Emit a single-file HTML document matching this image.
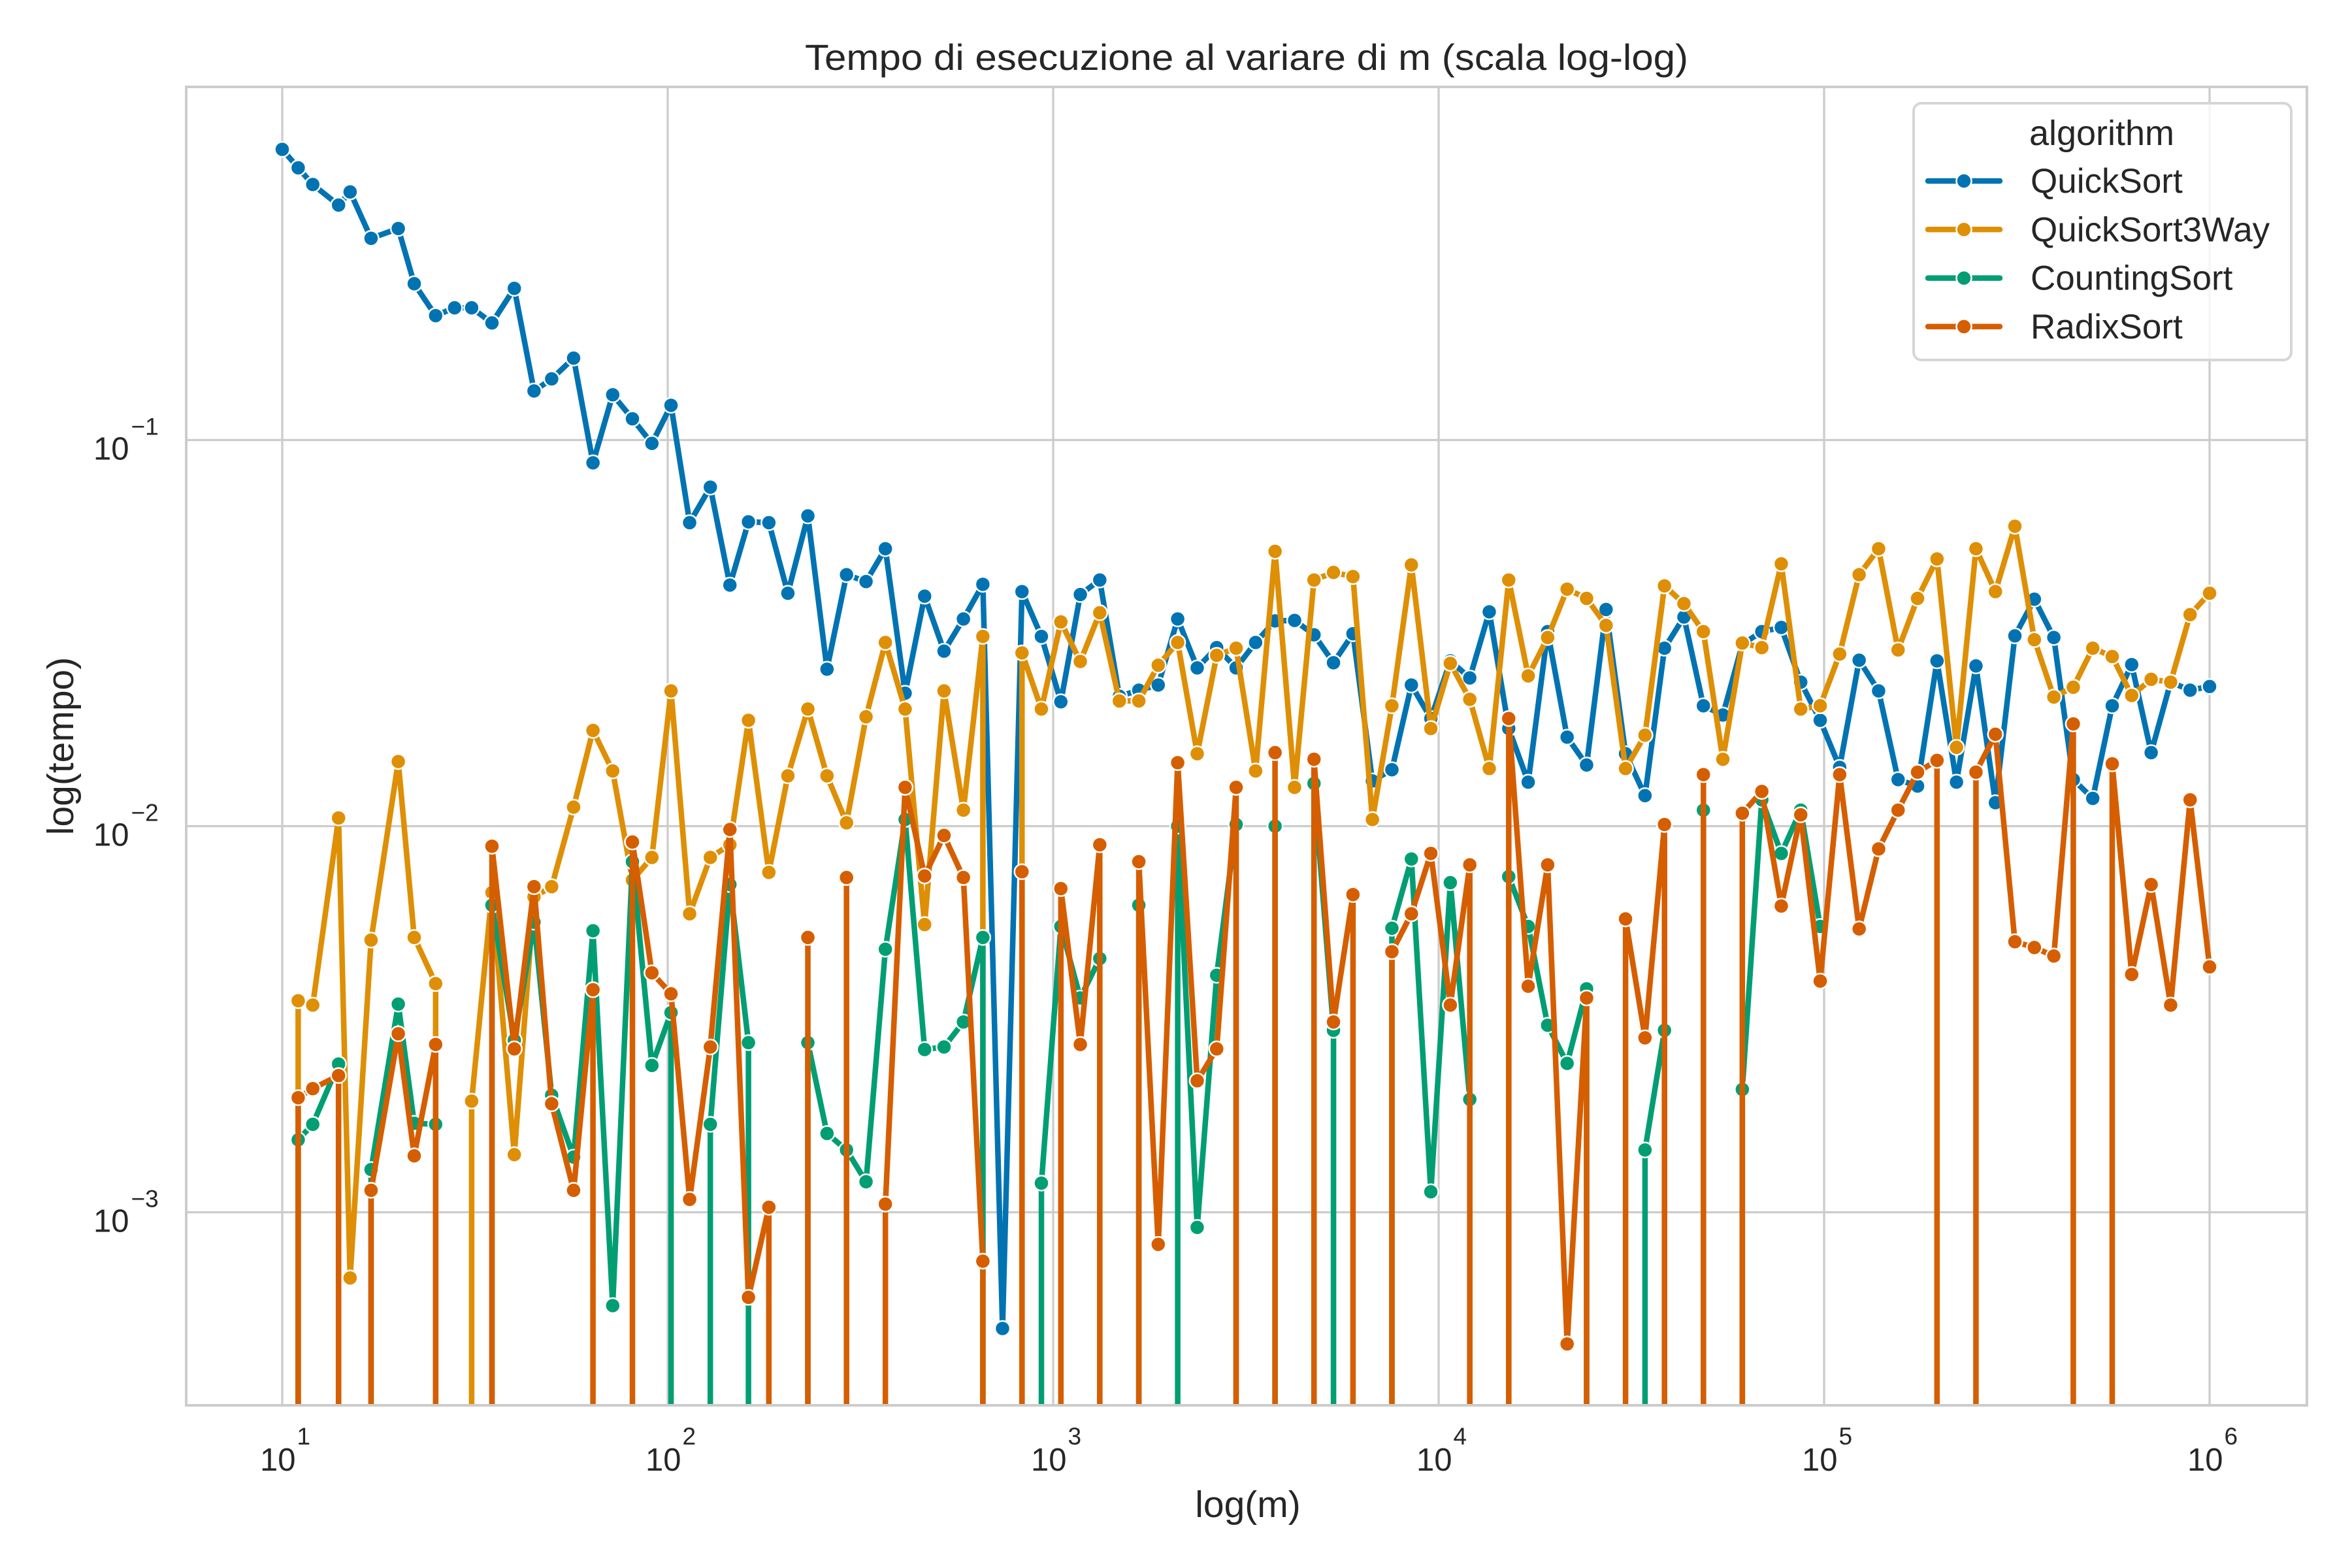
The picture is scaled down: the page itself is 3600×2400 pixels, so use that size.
<!DOCTYPE html>
<html><head><meta charset="utf-8"><style>
html,body{margin:0;padding:0;background:#fff;width:3600px;height:2400px;overflow:hidden;}
svg{display:block;font-family:"Liberation Sans",Arial,sans-serif;}
</style></head>
<body>
<svg id="chart" width="3600" height="2400" viewBox="0 0 3600 2400" xmlns="http://www.w3.org/2000/svg">
<defs><clipPath id="plotclip"><rect x="285" y="133" width="3246" height="2018"/></clipPath></defs>
<rect x="0" y="0" width="3600" height="2400" fill="#fff"/>
<g id="grid"></g>
<g id="series" clip-path="url(#plotclip)"></g>
<rect x="285" y="133" width="3246" height="2018" fill="none" stroke="#cccccc" stroke-width="4"/>
<g id="ticks"></g>
<text x="1908" y="107" text-anchor="middle" font-size="56" fill="#262626" textLength="1352" lengthAdjust="spacingAndGlyphs">Tempo di esecuzione al variare di m (scala log-log)</text>
<text x="1910" y="2322" text-anchor="middle" font-size="57" fill="#262626">log(m)</text>
<text x="0" y="0" transform="translate(112,1142) rotate(-90)" text-anchor="middle" font-size="57" fill="#262626">log(tempo)</text>
<g id="legend"></g>
</svg>
<script>
const mValues = [10,11,12,14,15,17,20,22,25,28,31,35,40,45,50,57,64,72,81,91,
102,114,129,145,162,183,205,231,259,291,327,367,413,464,521,585,657,739,830,932,
1047,1176,1321,1485,1668,1873,2104,2364,2656,2983,3351,3764,4229,4750,5336,5994,6733,7564,8497,9545,
10722,12045,13530,15199,17074,19179,21544,24201,27186,30539,34304,38535,43287,48626,54622,61359,68926,77426,86975,97701,
109749,123284,138488,155567,174752,196304,220513,247708,278256,312572,351119,394420,443062,497702,559081,628029,705480,792482,890215,1000000];

const quickSort = [0.566,0.507,0.459,0.406,0.439,0.333,0.353,0.254,0.210,0.220,0.220,0.201,0.247,0.134,0.144,0.163,0.0873,0.131,0.1135,0.098,
0.123,0.0611,0.0755,0.0421,0.0614,0.0611,0.0401,0.0636,0.0255,0.0448,0.0430,0.0523,0.0221,0.0394,0.0284,0.0344,0.0423,0.0005,0.0405,0.0310,
0.0210,0.0398,0.0434,0.0217,0.0225,0.0232,0.0344,0.0257,0.0290,0.0257,0.0299,0.0340,0.0341,0.0313,0.0265,0.0315,0.0131,0.0140,0.0232,0.0190,
0.0268,0.0242,0.0359,0.0179,0.0130,0.0319,0.0170,0.0144,0.0364,0.0154,0.0120,0.0289,0.0348,0.0205,0.0194,0.0296,0.0319,0.0327,0.0236,0.0188,
0.0142,0.0269,0.0224,0.0132,0.0127,0.0268,0.0130,0.0260,0.0115,0.0311,0.0387,0.0308,0.0132,0.0118,0.0205,0.0262,0.0155,0.0236,0.0225,0.0230];

const quickSort3Way = [0,0.00353,0.00344,0.0105,0.000676,0.00507,0.0147,0.00515,0.00391,0,0.00194,0.00673,0.00141,0.00656,0.00697,0.0112,0.0177,0.0139,0.00725,0.0083,
0.0224,0.00593,0.0083,0.00895,0.0188,0.00759,0.0135,0.0201,0.0135,0.0102,0.0192,0.0299,0.0201,0.00556,0.0224,0.0110,0.0310,0,0.0281,0.0201,
0.0338,0.0267,0.0357,0.0211,0.0211,0.0261,0.0299,0.0154,0.0277,0.0289,0.0139,0.0515,0.0126,0.0434,0.0454,0.0443,0.0104,0.0205,0.0475,0.0179,
0.0264,0.0213,0.0141,0.0434,0.0245,0.0308,0.0411,0.0389,0.0331,0.0141,0.0172,0.0419,0.0377,0.0319,0.0149,0.0298,0.0290,0.0478,0.0201,0.0205,
0.0279,0.0448,0.0523,0.0286,0.0389,0.0492,0.0160,0.0523,0.0405,0.0598,0.0304,0.0216,0.0229,0.0289,0.0275,0.0218,0.0240,0.0236,0.0353,0.0401];

const countingSort = [0,0.00154,0.00169,0.00242,0,0.00129,0.00346,0.00170,0.00169,0,0,0.00624,0.00279,0.00564,0.00201,0.00139,0.00536,0.000573,0.00809,0.0024,
0.00329,0,0.00169,0.00706,0.00275,0,0,0.00275,0.0016,0.00145,0.0012,0.0048,0.0104,0.00264,0.00268,0.00311,0.00515,0,0,0.00119,
0.0055,0.00359,0.00454,0,0.00624,0,0.0100,0.000914,0.00411,0.0101,0,0.0100,0,0.0129,0.00296,0,0,0.00544,0.00822,0.00113,
0.00714,0.00196,0,0.0074,0.0055,0.00305,0.00243,0.00379,0,0,0.00145,0.00296,0,0.0110,0,0.00208,0.0117,0.0085,0.0110,0.0055,
null,null,null,null,null,null,null,null,null,null,null,null,null,null,null,null,null,null,null,null];

const radixSort = [0,0.00198,0.00209,0.00226,0,0.00114,0.0029,0.0014,0.00272,0,0,0.00887,0.00265,0.00697,0.00191,0.00114,0.00377,0,0.0091,0.00417,
0.00368,0.00108,0.00268,0.0098,0.000602,0.00103,0,0.00515,0,0.00736,0,0.00105,0.0126,0.00743,0.00946,0.00736,0.000747,0,0.00762,0,
0.00689,0.00272,0.00895,0,0.00809,0.000826,0.0146,0.00219,0.00265,0.0126,0,0.0155,0,0.0149,0.00311,0.00665,0,0.00473,0.00593,0.0085,
0.00344,0.00794,0,0.019,0.00385,0.00794,0.000456,0.00359,0,0.00575,0.00283,0.0101,0,0.0136,0,0.0108,0.0123,0.00621,0.0107,0.00397,
0.0136,0.00542,0.00873,0.0110,0.0138,0.0148,0,0.0138,0.0173,0.00502,0.00485,0.00461,0.0184,0,0.0145,0.00413,0.00706,0.00344,0.0117,0.00432];

const seriesNames = ["QuickSort","QuickSort3Way","CountingSort","RadixSort"];
const seriesColors = ["#0173b2","#de8f05","#029e73","#d55e00"];
const xTickExps = [1,2,3,4,5,6];
const yTickExps = [-1,-2,-3];

const NS = "http://www.w3.org/2000/svg";
const PL = 285, PR = 3531, PT = 133, PB = 2151;
const BELOW = PB + 20;
function xScale(m){ return 432 + (Math.log10(m) - 1) * 590; }
function yScale(v){ return 1264.5 - (Math.log10(v) + 2) * 591; }
function mk(tag, attrs){ const e = document.createElementNS(NS, tag); for (const k in attrs) e.setAttribute(k, attrs[k]); return e; }

const grid = document.getElementById('grid');
xTickExps.forEach(function(p){
  const x = xScale(Math.pow(10,p));
  const l = mk('line',{x1:x,x2:x,y1:PT,y2:PB,stroke:'#cccccc','stroke-width':3.3});
  
  
  grid.appendChild(l);
});
yTickExps.forEach(function(p){
  const y = yScale(Math.pow(10,p));
  const l = mk('line',{x1:PL,x2:PR,y1:y,y2:y,stroke:'#cccccc','stroke-width':3.3});
  
  
  grid.appendChild(l);
});

const ticks = document.getElementById('ticks');
xTickExps.forEach(function(p){
  const x = xScale(Math.pow(10,p));
  const t = mk('text',{x:x-34,y:2251,'font-size':49,fill:'#262626'});
  
  
  t.appendChild(document.createTextNode('10'));
  const s = mk('tspan',{dx:2,dy:-40,'font-size':37});
  s.textContent = String(p);
  t.appendChild(s);
  ticks.appendChild(t);
});
yTickExps.forEach(function(p){
  const y = yScale(Math.pow(10,p));
  const t = mk('text',{x:143,y:y+30,'font-size':49,fill:'#262626'});
  
  
  t.appendChild(document.createTextNode('10'));
  const s = mk('tspan',{dx:3,dy:-38,'font-size':37});
  s.textContent = '\u2212' + String(-p);
  t.appendChild(s);
  ticks.appendChild(t);
});

const allSeries = [quickSort, quickSort3Way, countingSort, radixSort];
const seriesG = document.getElementById('series');
allSeries.forEach(function(vals, si){
  const g = mk('g',{});
  
  
  let d = '';
  let state = 'none';
  let lastX = 0;
  vals.forEach(function(v, i){
    if (v === null) { state = 'none'; return; }
    const x = xScale(mValues[i]);
    if (v <= 0) {
      if (state === 'real') d += 'L' + lastX.toFixed(1) + ' ' + BELOW + ' ';
      state = 'zero';
      return;
    }
    const y = yScale(v);
    if (state === 'zero') {
      d += (d.length ? 'L' : 'M') + x.toFixed(1) + ' ' + BELOW + ' L' + x.toFixed(1) + ' ' + y.toFixed(1) + ' ';
    } else if (state === 'real') {
      d += 'L' + x.toFixed(1) + ' ' + y.toFixed(1) + ' ';
    } else {
      d += 'M' + x.toFixed(1) + ' ' + y.toFixed(1) + ' ';
    }
    state = 'real';
    lastX = x;
  });
  const path = mk('path',{d:d,fill:'none',stroke:seriesColors[si],'stroke-width':8.5,'stroke-linejoin':'round','stroke-linecap':'round'});
  
  
  g.appendChild(path);
  vals.forEach(function(v, i){
    if (v === null || v <= 0) return;
    const c = mk('circle',{cx:xScale(mValues[i]),cy:yScale(v),r:11.5,fill:seriesColors[si],stroke:'#fff','stroke-width':2.5});
    
    
    g.appendChild(c);
  });
  seriesG.appendChild(g);
});

const legend = document.getElementById('legend');
const box = mk('rect',{x:2929,y:158,width:578,height:393,rx:12,fill:'#fff','fill-opacity':0.8,stroke:'#d6d6d6','stroke-width':4});


legend.appendChild(box);
const lt = mk('text',{x:3217,y:222,'text-anchor':'middle','font-size':54,fill:'#262626'});


lt.textContent = 'algorithm';
legend.appendChild(lt);
seriesNames.forEach(function(n, i){
  const base = 295 + i * 74.3;
  const cy = base - 18;
  const g = mk('g',{});
  
  
  const ln = mk('line',{x1:2951,x2:3061,y1:cy,y2:cy,stroke:seriesColors[i],'stroke-width':8.5,'stroke-linecap':'round'});
  
  
  g.appendChild(ln);
  const c = mk('circle',{cx:3006,cy:cy,r:11.5,fill:seriesColors[i],stroke:'#fff','stroke-width':2.5});
  
  
  g.appendChild(c);
  const t = mk('text',{x:3108,y:base,'font-size':53,fill:'#262626'});
  
  
  t.textContent = n;
  g.appendChild(t);
  legend.appendChild(g);
});
</script>
</body></html>
